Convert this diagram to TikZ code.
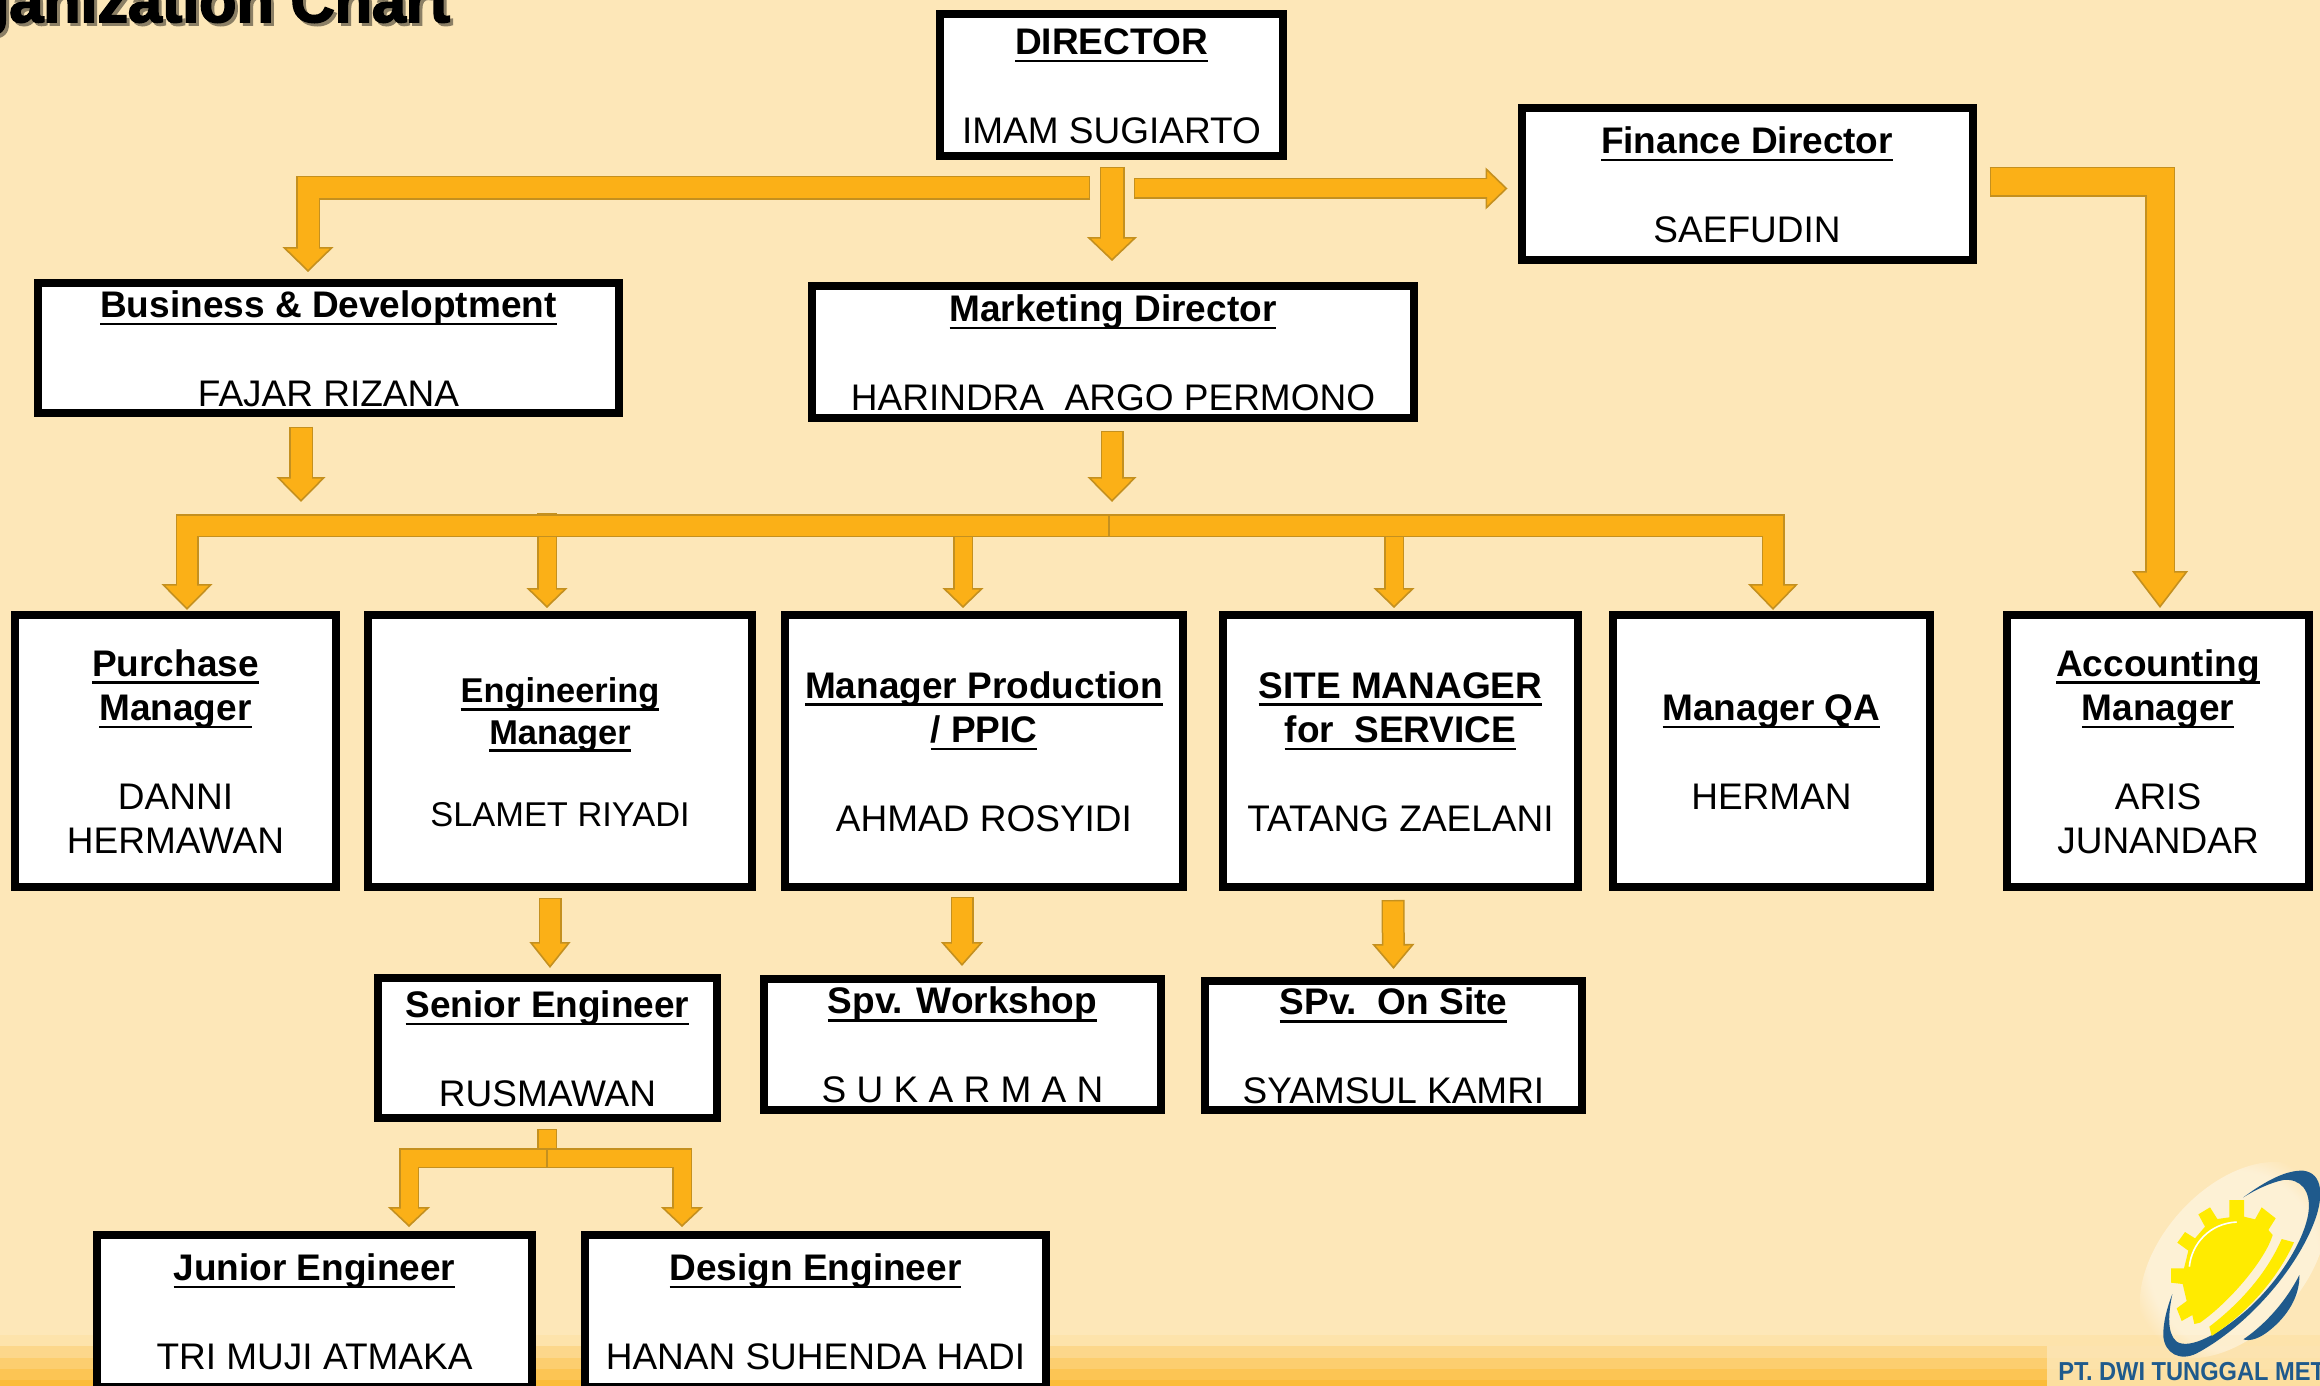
\documentclass[tikz,border=0pt]{standalone}
\usepackage{fontspec}
\usetikzlibrary{calc,arrows.meta,fadings}
\setmainfont{Liberation Sans}
\newfontfamily\titlefont[BoldFeatures={FakeBold=3}]{Liberation Sans}
\definecolor{orgback}{HTML}{FDE7B8}
\definecolor{orggold}{HTML}{FBB017}
\definecolor{orgedge}{HTML}{C4901F}
\definecolor{logoblue}{HTML}{1F5A8C}
\definecolor{logoyellow}{HTML}{FFEB00}
\newcommand{\ttl}[1]{{\bfseries\setbox0=\hbox{#1}\leavevmode\rule{0pt}{14pt}\rlap{\rule[-3.9pt]{\wd0}{1.3pt}}\box0}}
\tikzset{
  orgbox/.style n args={2}{draw=black,fill=white,line width=4pt,align=center,inner sep=0pt,
    minimum width=#1,minimum height=#2,font=\fontsize{18.5}{22.2}\selectfont},
  smallfont/.style={font=\fontsize{17.2}{20.7}\selectfont},
  orgarrow/.style n args={3}{draw=orgedge,line width=#1,
    -{Triangle[length=#3,width=#2,fill=orggold,color=orgedge,line width=.8pt]},
    postaction={draw=orggold,line width=#1-1.5pt,-,shorten >=#3-1pt,shorten <=.7pt}},
  orgstub/.style={draw=orgedge,line width=#1,
    postaction={draw=orggold,line width=#1-1.5pt,shorten <=.7pt}}
}
\begin{document}
\begin{tikzpicture}[x=0.5pt,y=-0.5pt]
\useasboundingbox (0,0) rectangle (2320,1386);
\clip (0,0) rectangle (2320,1386);
\fill[orgback] (0,0) rectangle (2320,1386);
\fill[orgback!92!orggold] (0,1335) rectangle (2320,1346);
\fill[orgback!72!orggold] (0,1346) rectangle (2320,1358);
\fill[orgback!55!orggold] (0,1358) rectangle (2320,1369);
\fill[orgback!38!orggold] (0,1369) rectangle (2320,1380);
\fill[orgback!22!orggold] (0,1380) rectangle (2320,1386);
\fill[orgback,opacity=.8] (2047,1346) rectangle (2320,1386);

\node[anchor=base east,text=black!45!orgback,font=\titlefont\bfseries\fontsize{30.5}{30}\selectfont] (titleshadow) at (460,25) {Organization Chart};
\node[anchor=base east,text=black,font=\titlefont\bfseries\fontsize{30.5}{30}\selectfont] (titletext) at (457,22) {Organization Chart};

\node[orgbox={171.5pt}{71pt}] (director) at (1111.5,85) {\ttl{DIRECTOR}\\[\baselineskip]IMAM SUGIARTO};
\node[orgbox={225.5pt}{76pt}] (finance) at (1747,184) {\ttl{Finance Director}\\[\baselineskip]SAEFUDIN};
\node[orgbox={290.5pt}{65pt}] (business) at (328.5,348) {\ttl{Business \& Developtment}\\[\baselineskip]FAJAR RIZANA};
\node[orgbox={301pt}{66pt}] (marketing) at (1113,352) {\ttl{Marketing Director}\\[\baselineskip]HARINDRA~ ARGO PERMONO};

\node[orgbox={160.5pt}{136pt}] (purchase) at (175.5,751) {\ttl{Purchase}\\\ttl{Manager}\\[\baselineskip]DANNI\\HERMAWAN};
\node[orgbox={192pt}{136pt},smallfont] (engineering) at (560,751) {\ttl{Engineering}\\\ttl{Manager}\\[\baselineskip]SLAMET RIYADI};
\node[orgbox={199pt}{136pt}] (production) at (984,751) {\ttl{Manager Production}\\\ttl{/ PPIC}\\[\baselineskip]AHMAD ROSYIDI};
\node[orgbox={177.5pt}{136pt}] (site) at (1400.5,751) {\ttl{SITE MANAGER}\\\ttl{for~~SERVICE}\\[\baselineskip]TATANG ZAELANI};
\node[orgbox={158.5pt}{136pt}] (quality) at (1771.5,751) {\ttl{Manager QA}\\[\baselineskip]HERMAN};
\node[orgbox={151pt}{136pt}] (accounting) at (2158,751) {\ttl{Accounting}\\\ttl{Manager}\\[\baselineskip]ARIS\\JUNANDAR};

\node[orgbox={169.5pt}{70pt}] (senior) at (547.5,1048) {\ttl{Senior Engineer}\\[\baselineskip]RUSMAWAN};
\node[orgbox={198.5pt}{65.5pt}] (workshop) at (962.5,1044.5) {\ttl{Spv. Workshop}\\[\baselineskip]S U K A R M A N};
\node[orgbox={188.5pt}{64.5pt}] (onsite) at (1393.5,1045.5) {\ttl{SPv.~~On Site}\\[\baselineskip]SYAMSUL KAMRI};
\node[orgbox={217.5pt}{76pt}] (junior) at (314.5,1311) {\ttl{Junior Engineer}\\[\baselineskip]TRI MUJI ATMAKA};
\node[orgbox={230.5pt}{76pt}] (design) at (815.5,1311) {\ttl{Design Engineer}\\[\baselineskip]HANAN SUHENDA HADI};

\coordinate (busmid) at (1109,525.5);
\coordinate (bizend) at (301,502);
\coordinate (markend) at (1112,502);
\coordinate (splitmid) at (547,1158);

\draw[orgarrow={12pt}{25.5pt}{12.5pt}] ($(director.south)+(-21.5,28)$) -| ($(business.north)+(-20.5,-7)$);
\draw[orgarrow={12.5pt}{25pt}{12pt}] ($(director.south)+(.5,7)$) -- ($(marketing.north)+(-1,-21)$);
\draw[orgarrow={10.5pt}{21pt}{11pt}] ($(director.south)+(22.5,28.5)$) -- ($(finance.west)+(-10,4.5)$);
\draw[orgarrow={15pt}{28pt}{18.5pt}] ($(finance.east)+(13,-2)$) -| ($(accounting.north)+(2,-3)$);
\draw[orgarrow={12pt}{24.5pt}{12.5pt}] ($(business.south)+(-27.5,9.5)$) -- (bizend);
\draw[orgarrow={11.5pt}{24.5pt}{12.5pt}] ($(marketing.south)+(-1,9)$) -- (markend);

\draw[orgarrow={10pt}{20.5pt}{10pt}] ($(engineering.north)+(-13,-98)$) -- ($(engineering.north)+(-13,-3)$);
\draw[orgarrow={10pt}{20.5pt}{10pt}] ($(production.north)+(-21,-81)$) -- ($(production.north)+(-21,-3)$);
\draw[orgarrow={10pt}{20.5pt}{10pt}] ($(site.north)+(-6.5,-81)$) -- ($(site.north)+(-6.5,-3)$);
\draw[orgarrow={11.5pt}{25.5pt}{13pt}] (busmid) -| ($(purchase.north)+(11.5,-1)$);
\draw[orgarrow={11.5pt}{25pt}{13pt}] (busmid) -| ($(quality.north)+(1.5,-1)$);

\draw[orgarrow={11.5pt}{20.5pt}{13pt}] ($(engineering.south)+(-10,7)$) -- ($(senior.north)+(2.5,-6)$);
\draw[orgarrow={11.5pt}{21pt}{12pt}] ($(production.south)+(-22,6)$) -- ($(workshop.north)+(-.5,-9)$);
\draw[orgarrow={11.5pt}{21pt}{12.5pt}] ($(site.south)+(-7.5,9)$) -- ($(onsite.north)+(0,-8)$);

\draw[orgstub=10pt] ($(senior.south)+(-.5,7)$) -- ($(senior.south)+(-.5,27)$);
\draw[orgarrow={10pt}{21pt}{10pt}] (splitmid) -| ($(junior.north)+(94.5,-4)$);
\draw[orgarrow={10pt}{21pt}{10pt}] (splitmid) -| ($(design.north)+(-133.5,-4)$);

\begin{scope}[shift={(1960,1120)},x=0.16667pt,y=-0.16667pt]
\fill[white,opacity=.42,path fading=circle with fuzzy edge 20 percent] (820,420) ellipse [x radius=215,y radius=345,rotate=-42];
\fill[logoblue] (850,232) .. controls (920,180) and (980,150) .. (1030,152) .. controls (1090,160) and (1090,230) .. (1065,300) .. controls (1010,450) and (860,620) .. (710,700) .. controls (660,725) and (615,700) .. (610,650) .. controls (608,610) and (622,560) .. (637,522) .. controls (625,580) and (620,640) .. (650,665) .. controls (690,690) and (780,640) .. (860,570) .. controls (950,490) and (1030,370) .. (1045,280) .. controls (1055,210) and (1020,175) .. (970,180) .. controls (930,188) and (885,210) .. (850,232) -- cycle;
\fill[logoblue] (1018,465) .. controls (1020,530) and (980,590) .. (930,630) .. controls (900,655) and (870,665) .. (850,658) .. controls (920,610) and (980,540) .. (1018,465) -- cycle;
\fill[logoyellow] (808,240) -- (852,240) -- (852,290) -- (885,298) -- (905,262) -- (947,295) -- (925,330) -- (938,345) .. controls (915,420) and (810,545) .. (720,608) -- (703,612) -- (697,585) -- (665,603) -- (650,565) -- (680,543) -- (668,492) -- (633,488) -- (633,445) -- (672,445) -- (685,392) -- (652,368) -- (675,336) -- (705,355) -- (735,320) -- (715,283) -- (750,262) -- (772,297) -- (808,292) -- cycle;
\fill[logoyellow] (965,357) -- (1002,367) .. controls (950,480) and (860,580) .. (755,648) -- (748,620) .. controls (840,550) and (920,460) .. (965,357) -- cycle;
\draw[white,line width=.8pt] (688,440) .. controls (695,370) and (750,310) .. (830,306);
\end{scope}

\node[anchor=base west,text=logoblue,font=\bfseries\fontsize{13}{13}\selectfont,xscale=.91,inner sep=0pt] (logotext) at (2058,1380) {PT. DWI TUNGGAL MET};
\end{tikzpicture}
\end{document}
